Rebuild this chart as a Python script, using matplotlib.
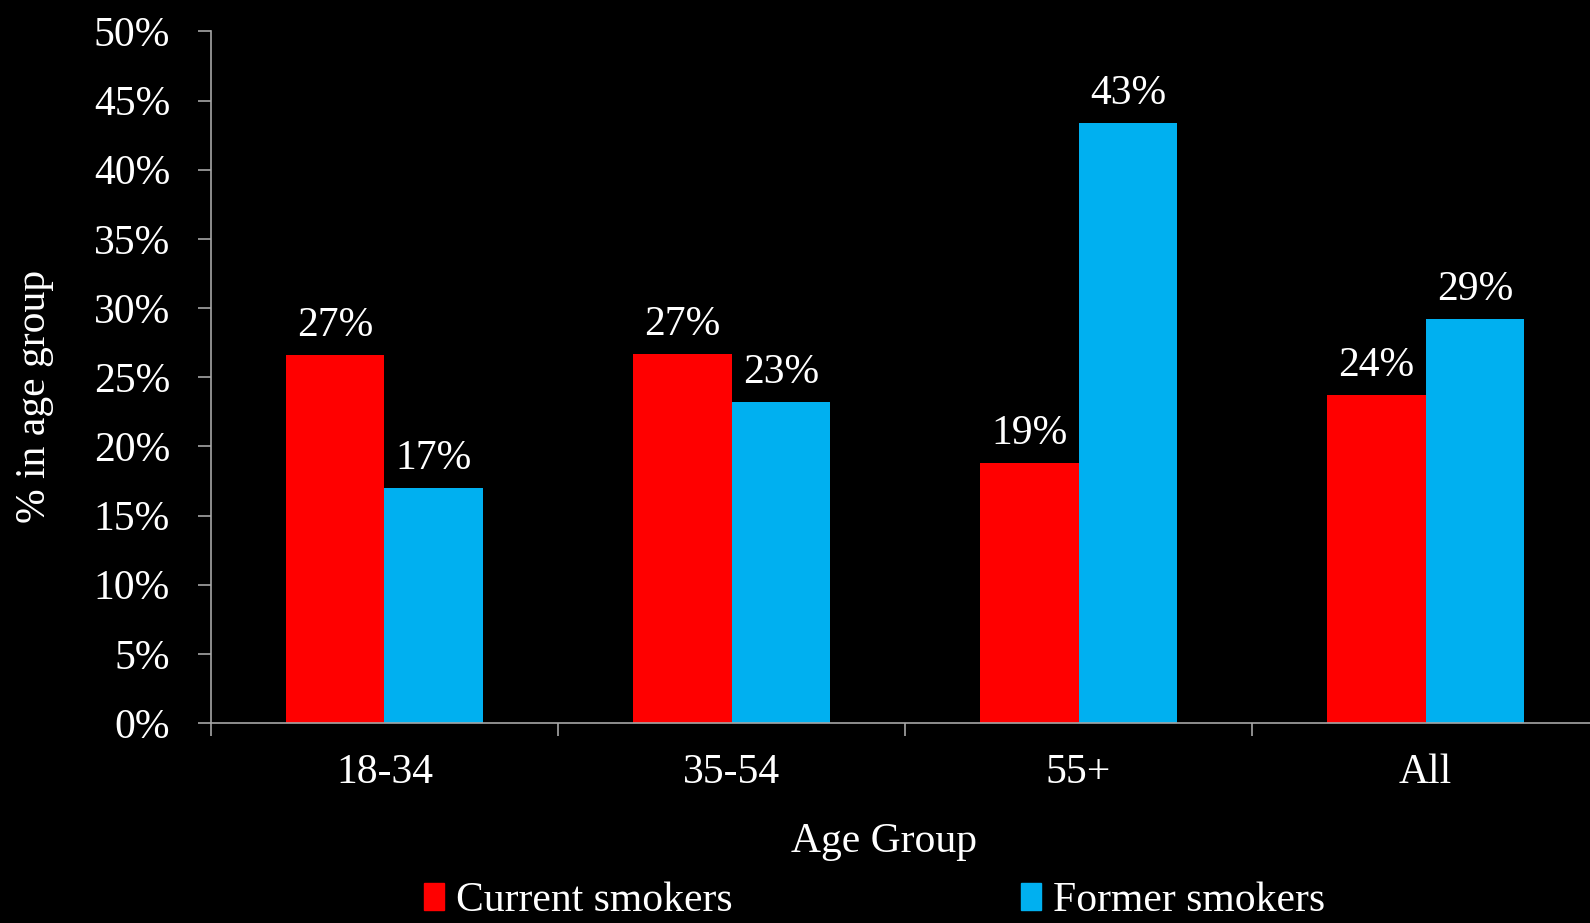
import numpy as np
import matplotlib
matplotlib.use("Agg")
from matplotlib import pyplot as plt
from matplotlib.patches import Patch

groups = ["18-34", "35-54", "55+", "All"]
current = [26.6, 26.7, 18.8, 23.7]
former = [17.0, 23.2, 43.4, 29.2]
series_names = ["Current smokers", "Former smokers"]
red = "#FF0000"
blue = "#00B0F0"

plt.rcParams["font.family"] = ["Liberation Serif", "DejaVu Serif"]
fs = 30

fig = plt.figure(figsize=(15.9, 9.23), dpi=100, facecolor="black")
ax = fig.add_axes([0.1327, 0.2167, 0.8673, 0.7493], facecolor="black")

x = np.arange(len(groups)) + 0.5
w = 0.285
b1 = ax.bar(x - w / 2, current, w, color=red)
b2 = ax.bar(x + w / 2, former, w, color=blue)

# value labels over each bar
for bars, vals in ((b1, current), (b2, former)):
    for bar, v in zip(bars, vals):
        ax.annotate(f"{v:.0f}%", (bar.get_x() + bar.get_width() / 2, v),
                    xytext=(0, 7), textcoords="offset points",
                    ha="center", va="bottom", color="white", fontsize=fs)

ax.set_ylim(0, 50)
ax.set_xlim(0, 3.974)
ax.set_yticks(np.arange(0, 51, 5))
ax.set_yticklabels([f"{t}%" for t in range(0, 51, 5)])
ax.set_xticks([0, 1, 2, 3])
ax.set_xticklabels([])
ax.set_xticks(x, minor=True)
ax.set_xticklabels(groups, minor=True)

ax.tick_params(axis="y", colors="#a6a6a6", labelcolor="white", labelsize=fs,
               length=9.5, width=1.2, pad=20)
ax.tick_params(axis="x", which="major", colors="#a6a6a6", length=9.5, width=1.2)
ax.tick_params(axis="x", which="minor", length=0, labelcolor="white",
               labelsize=fs, pad=22)

for s in ("top", "right"):
    ax.spines[s].set_visible(False)
for s in ("left", "bottom"):
    ax.spines[s].set_color("#a6a6a6")
    ax.spines[s].set_linewidth(1.2)

fig.text(0.022, 0.571, "% in age group", rotation=90, color="white",
         fontsize=fs, ha="center", va="center")
fig.text(0.556, 0.088, "Age Group", color="white", fontsize=fs,
         ha="center", va="center")

handles = [Patch(color=red), Patch(color=blue)]
fig.legend(handles, series_names, loc="center", bbox_to_anchor=(0.550, 0.024),
           ncol=2, frameon=False, fontsize=fs, labelcolor="white",
           handlelength=0.48, handleheight=0.6, handletextpad=0.3,
           columnspacing=6.9)

fig.savefig("out.png", dpi=100, facecolor="black")
